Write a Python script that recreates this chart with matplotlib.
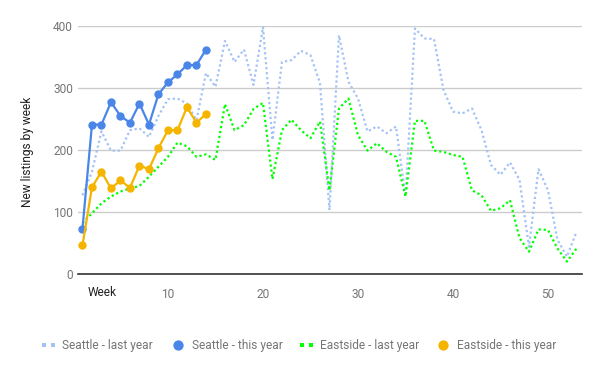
import matplotlib
matplotlib.use("Agg")
import matplotlib.pyplot as plt
from matplotlib.lines import Line2D

weeks_last = list(range(1, 54))
weeks_this = list(range(1, 15))

seattle_last = [127, 165, 230, 199, 199, 232, 235, 221, 255, 282, 283, 275, 248, 324, 302,
                376, 342, 362, 305, 398, 216, 342, 345, 360, 353, 308, 103, 385, 310, 283,
                230, 238, 227, 238, 125, 396, 380, 379, 297, 262, 259, 267, 232, 176, 160,
                180, 152, 44, 169, 135, 55, 28, 68]
eastside_last = [82, 98, 114, 125, 133, 138, 142, 157, 173, 189, 212, 206, 189, 193, 184,
                 274, 232, 240, 266, 276, 153, 232, 249, 232, 219, 246, 135, 267, 283, 224,
                 199, 211, 197, 189, 125, 247, 247, 199, 197, 192, 189, 135, 127, 102, 106,
                 119, 58, 36, 72, 71, 41, 20, 41]
seattle_this = [73, 241, 241, 277, 255, 244, 275, 241, 290, 309, 322, 337, 337, 362]
eastside_this = [46, 140, 165, 138, 151, 139, 175, 169, 203, 232, 232, 269, 244, 258]

labels = ["Seattle - last year", "Seattle - this year", "Eastside - last year", "Eastside - this year"]
c_sl, c_st, c_el, c_et = "#a4c2f4", "#4a86e8", "#00ff00", "#f4b400"

plt.rcParams['font.family'] = ['Roboto', 'DejaVu Sans']
W, H = 600, 371
FS = 8.6
fig = plt.figure(figsize=(6, 3.71), dpi=100)
ax = fig.add_axes([78/W, 1-274/H, (582-78)/W, (274-26)/H])

dot = (0, (1, 1.25))
ax.plot(weeks_last, seattle_last, color=c_sl, lw=1.6, linestyle=dot, dash_capstyle='butt', zorder=2)
ax.plot(weeks_last, eastside_last, color=c_el, lw=1.6, linestyle=dot, dash_capstyle='butt', zorder=2)
ax.plot(weeks_this, seattle_this, color=c_st, lw=1.6, marker='o', ms=5, zorder=3)
ax.plot(weeks_this, eastside_this, color=c_et, lw=1.6, marker='o', ms=5, zorder=3)

ax.set_xlim(0.53, 53.58)
ax.set_ylim(0, 400)
ax.set_yticks([0, 100, 200, 300, 400])
ax.set_xticks([10, 20, 30, 40, 50])
ax.grid(axis='y', color='#cccccc', lw=1)
ax.set_axisbelow(True)
for s in ['top', 'right', 'left']:
    ax.spines[s].set_visible(False)
ax.spines['bottom'].set_color('#333333')
ax.spines['bottom'].set_linewidth(1.2)
ax.spines['bottom'].set_zorder(1)
ax.tick_params(axis='both', length=0, labelsize=FS, labelcolor='#757575')
ax.tick_params(axis='y', pad=3.6)
ax.tick_params(axis='x', pad=10)
fig.text(27/W, 1-152/H, "New listings by week", fontsize=FS, color='#222222',
         rotation=90, ha='center', va='center')
fig.text(88/W, 1-293/H, "Week", fontsize=FS, color='#222222', ha='left', va='center')

# legend, laid out manually
ly = 1 - 345/H
def fx(px):
    return px / W
fig.add_artist(Line2D([fx(44), fx(53)], [ly, ly], transform=fig.transFigure, lw=0,
                      marker='s', ms=3.2, color=c_sl, markeredgewidth=0))
fig.add_artist(Line2D([fx(178)], [ly], transform=fig.transFigure, lw=0,
                      marker='o', ms=7.4, color=c_st, markeredgewidth=0))
fig.add_artist(Line2D([fx(302), fx(311)], [ly, ly], transform=fig.transFigure, lw=0,
                      marker='s', ms=3.2, color=c_el, markeredgewidth=0))
fig.add_artist(Line2D([fx(443)], [ly], transform=fig.transFigure, lw=0,
                      marker='o', ms=7.4, color=c_et, markeredgewidth=0))
for x0, lab in zip([62, 192, 320, 457], labels):
    fig.text(fx(x0), ly, lab, fontsize=FS, color='#757575', ha='left', va='center')

fig.savefig("out.png", dpi=100)
